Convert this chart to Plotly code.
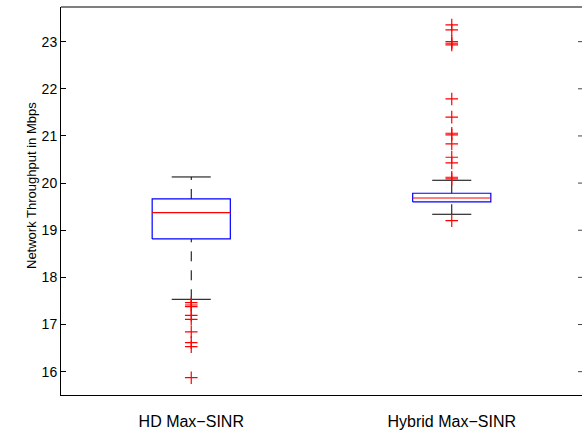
import plotly.graph_objects as go

# Summary statistics per scheme (Mbps)
categories = ["HD Max\u2212SINR", "Hybrid Max\u2212SINR"]
q1 = [18.815, 19.600]
median = [19.373, 19.684]
q3 = [19.663, 19.784]
lower_whisker = [17.535, 19.339]
upper_whisker = [20.130, 20.060]

# Points beyond the whiskers
hd_outliers = [17.463, 17.414, 17.378, 17.196, 17.111, 16.842, 16.615, 16.530, 15.872]
hybrid_outliers = [23.354, 23.248, 23.000, 22.966, 22.930, 21.785, 21.400, 21.057,
                   21.021, 20.830, 20.548, 20.427, 20.124, 20.088, 19.203]
outliers = [hd_outliers, hybrid_outliers]

y_ticks = [16, 17, 18, 19, 20, 21, 22, 23]
y_range = [15.505, 23.735]

BOX_HALF = 0.15
CAP_HALF = 0.075
PLOT_W = 521          # plot-area width in px (582 - left margin)
TICK_LEN = 5
FONT = "Liberation Sans, Arial, Helvetica, sans-serif"

fig = go.Figure()

for i, name in enumerate(categories):
    c = i + 1
    # dashed whiskers, drawn upward from the lower end
    fig.add_trace(go.Scatter(x=[c, c], y=[lower_whisker[i], q1[i]], mode="lines",
                             line=dict(color="black", width=1, dash="10px,9px"),
                             hoverinfo="skip", showlegend=False))
    fig.add_trace(go.Scatter(x=[c, c], y=[q3[i], upper_whisker[i]], mode="lines",
                             line=dict(color="black", width=1, dash="10px,9px"),
                             hoverinfo="skip", showlegend=False))
    # whisker caps
    for w in (lower_whisker[i], upper_whisker[i]):
        fig.add_trace(go.Scatter(x=[c - CAP_HALF, c + CAP_HALF], y=[w, w], mode="lines",
                                 line=dict(color="black", width=1),
                                 hoverinfo="skip", showlegend=False))
    # box
    fig.add_trace(go.Scatter(x=[c - BOX_HALF, c + BOX_HALF, c + BOX_HALF, c - BOX_HALF, c - BOX_HALF],
                             y=[q1[i], q1[i], q3[i], q3[i], q1[i]], mode="lines",
                             line=dict(color="#0000ff", width=1.2),
                             hoverinfo="skip", showlegend=False))
    # median
    fig.add_trace(go.Scatter(x=[c - BOX_HALF, c + BOX_HALF], y=[median[i], median[i]], mode="lines",
                             line=dict(color="#ff0000", width=1.2),
                             hoverinfo="skip", showlegend=False))
    # outliers
    fig.add_trace(go.Scatter(x=[c] * len(outliers[i]), y=outliers[i], mode="markers",
                             marker=dict(symbol="cross-thin", size=9,
                                         line=dict(color="#ff0000", width=1.2)),
                             showlegend=False, name=name))

# top frame edge plus short tick marks along the right edge
shapes = [dict(type="line", xref="paper", yref="paper", x0=0, x1=1, y0=1, y1=1,
               line=dict(color="black", width=1))]
for t in y_ticks:
    shapes.append(dict(type="line", xref="paper", yref="y", x0=1 - 4 / PLOT_W, x1=1,
                       y0=t, y1=t, line=dict(color="#444444", width=1)))

fig.update_layout(
    width=582, height=435,
    margin=dict(l=61, r=0, t=7, b=40),
    paper_bgcolor="white", plot_bgcolor="white",
    font=dict(family=FONT, color="black"),
    xaxis=dict(range=[0.5, 2.5], tickvals=[1, 2], ticktext=categories,
               ticks="", showline=True, linecolor="black", linewidth=1, mirror=False,
               showgrid=False, zeroline=False, tickfont=dict(size=16, color="black"),
               ticklabelstandoff=12),
    yaxis=dict(range=y_range, tickvals=y_ticks, ticks="inside", ticklen=TICK_LEN,
               tickcolor="black", tickwidth=1, showline=True, linecolor="black",
               linewidth=1, mirror=False, showgrid=False, zeroline=False,
               tickfont=dict(size=14, color="black")),
    shapes=shapes,
    annotations=[dict(text="Network Throughput in Mbps", xref="paper", yref="paper",
                      x=(31 - 61) / 521, y=(395 - 186) / 388, xanchor="center",
                      yanchor="middle", textangle=-90, showarrow=False,
                      font=dict(size=13, color="black", family=FONT))],
)

fig.write_html("out.html")
